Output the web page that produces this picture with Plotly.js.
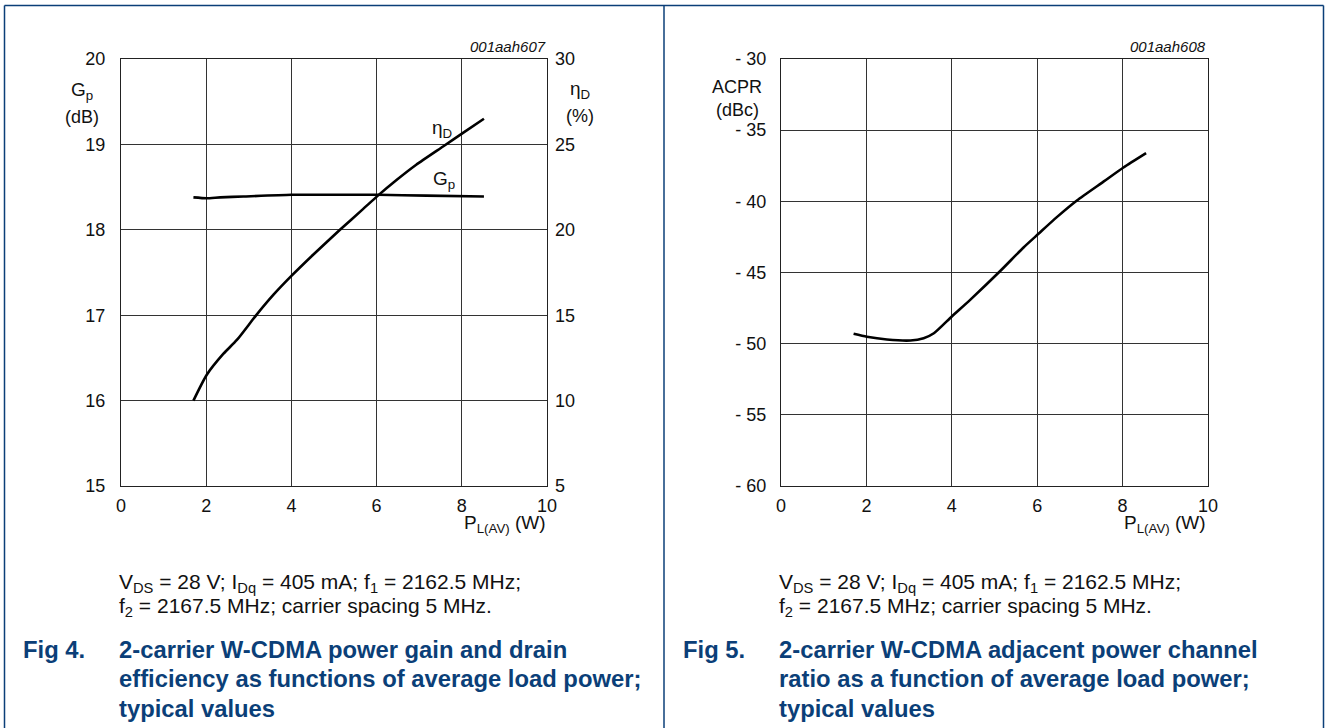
<!DOCTYPE html>
<html>
<head>
<meta charset="utf-8">
<script src="https://cdn.plot.ly/plotly-3.0.1.min.js"></script>
<style>html,body{margin:0;padding:0;background:#fff;}#chart{width:1326px;height:728px;}</style>
</head>
<body>
<div id="chart"></div>
<script>
// Fig 4 data
const loadPowerGp = [1.70, 2.01, 2.33, 2.87, 4.00, 5.21, 6.03, 7.17, 8.52];
const gainGp = [18.38, 18.37, 18.38, 18.39, 18.41, 18.41, 18.41, 18.40, 18.39];
const loadPowerEta = [1.70, 2.01, 2.40, 2.72, 3.18, 3.58, 4.00, 4.51, 5.14, 5.68, 6.03, 6.46, 6.93, 7.56, 8.02, 8.52];
const drainEff = [10.0, 11.5, 12.73, 13.55, 15.02, 16.2, 17.3, 18.54, 20.0, 21.21, 22.0, 22.9, 23.81, 24.88, 25.66, 26.5];
// Fig 5 data
const loadPowerAcpr = [1.70, 2.01, 2.48, 3.03, 3.34, 3.58, 4.00, 4.43, 5.14, 5.68, 6.03, 6.46, 6.93, 7.56, 8.02, 8.55];
const acpr = [-49.31, -49.52, -49.71, -49.78, -49.62, -49.27, -48.09, -46.92, -44.88, -43.24, -42.28, -41.11, -39.94, -38.6, -37.62, -36.61];
// ticks
const xTicks = [0, 2, 4, 6, 8, 10];
const gpTicks = [15, 16, 17, 18, 19, 20];
const etaTicks = [5, 10, 15, 20, 25, 30];
const acprTicks = [-60, -55, -50, -45, -40, -35, -30];
const acprTickText = ['- 60', '- 55', '- 50', '- 45', '- 40', '- 35', '- 30'];

const FONT = 'Liberation Sans, Arial, sans-serif';
const BLUE = '#0b3f78';
const TXT = '#111';
const lineStyle = {color: '#000', width: 2.6, shape: 'spline', smoothing: 0.6};

const traces = [
  {x: loadPowerGp, y: gainGp, xaxis: 'x', yaxis: 'y', mode: 'lines', line: lineStyle, name: 'Gp'},
  {x: loadPowerEta, y: drainEff, xaxis: 'x', yaxis: 'y2', mode: 'lines', line: lineStyle, name: 'ηD'},
  {x: loadPowerAcpr, y: acpr, xaxis: 'x2', yaxis: 'y3', mode: 'lines', line: lineStyle, name: 'ACPR'}
];

const yTop = 1 - 59 / 728, yBot = 1 - 486 / 728;
const axBase = {
  showline: true, linecolor: '#222', linewidth: 1, mirror: true,
  showgrid: true, gridcolor: '#333', gridwidth: 1, zeroline: false,
  ticks: '', tickfont: {family: FONT, size: 18, color: TXT}, fixedrange: true
};

function ann(x, y, text, opts) {
  return Object.assign({xref: 'paper', yref: 'paper', x: x / 1326, y: 1 - y / 728, text: text,
    showarrow: false, xanchor: 'center', yanchor: 'middle',
    font: {family: FONT, size: 18, color: TXT}}, opts || {});
}
const capFont = {family: FONT, size: 21, color: TXT};
const titleFont = {family: FONT, size: 23.8, color: BLUE};
const idFont = {family: FONT, size: 15, color: TXT};
const axFont = {family: FONT, size: 19, color: TXT};

const annotations = [
  // Fig 4 labels
  ann(82, 91, 'G<sub>p</sub>', {font: axFont}),
  ann(82, 117, '(dB)'),
  ann(580, 90, 'η<sub>D</sub>', {font: axFont}),
  ann(580, 116, '(%)'),
  ann(548, 524, 'P<sub>L(AV)</sub> (W)', {xanchor: 'right', font: axFont}),
  ann(548, 47, '<i>001aah607</i>', {xanchor: 'right', font: idFont}),
  ann(442, 129, 'η<sub>D</sub>', {font: axFont}),
  ann(444, 180, 'G<sub>p</sub>', {font: axFont}),
  // Fig 5 labels
  ann(737, 87, 'ACPR'),
  ann(737, 110, '(dBc)'),
  ann(1208, 524, 'P<sub>L(AV)</sub> (W)', {xanchor: 'right', font: axFont}),
  ann(1208, 47, '<i>001aah608</i>', {xanchor: 'right', font: idFont}),
  // Captions
  ann(117, 583, 'V<sub>DS</sub> = 28 V; I<sub>Dq</sub> = 405 mA; f<sub>1</sub> = 2162.5 MHz;', {xanchor: 'left', font: capFont}),
  ann(117, 607, 'f<sub>2</sub> = 2167.5 MHz; carrier spacing 5 MHz.', {xanchor: 'left', font: capFont}),
  ann(777, 583, 'V<sub>DS</sub> = 28 V; I<sub>Dq</sub> = 405 mA; f<sub>1</sub> = 2162.5 MHz;', {xanchor: 'left', font: capFont}),
  ann(777, 607, 'f<sub>2</sub> = 2167.5 MHz; carrier spacing 5 MHz.', {xanchor: 'left', font: capFont}),
  ann(21, 649, '<b>Fig 4.</b>', {xanchor: 'left', font: titleFont}),
  ann(117, 649, '<b>2-carrier W-CDMA power gain and drain</b>', {xanchor: 'left', font: titleFont}),
  ann(117, 678, '<b>efficiency as functions of average load power;</b>', {xanchor: 'left', font: titleFont}),
  ann(117, 708, '<b>typical values</b>', {xanchor: 'left', font: titleFont}),
  ann(681, 649, '<b>Fig 5.</b>', {xanchor: 'left', font: titleFont}),
  ann(777, 649, '<b>2-carrier W-CDMA adjacent power channel</b>', {xanchor: 'left', font: titleFont}),
  ann(777, 678, '<b>ratio as a function of average load power;</b>', {xanchor: 'left', font: titleFont}),
  ann(777, 708, '<b>typical values</b>', {xanchor: 'left', font: titleFont})
];

const shapes = [
  {type: 'line', xref: 'paper', yref: 'paper', x0: 4.5/1326, x1: 1323.5/1326, y0: 1 - 5.5/728, y1: 1 - 5.5/728, line: {color: BLUE, width: 1.5}},
  {type: 'line', xref: 'paper', yref: 'paper', x0: 4.5/1326, x1: 4.5/1326, y0: 0, y1: 1 - 5.5/728, line: {color: BLUE, width: 1.5}},
  {type: 'line', xref: 'paper', yref: 'paper', x0: 664/1326, x1: 664/1326, y0: 0, y1: 1 - 5.5/728, line: {color: BLUE, width: 1.5}},
  {type: 'line', xref: 'paper', yref: 'paper', x0: 1323.5/1326, x1: 1323.5/1326, y0: 0, y1: 1 - 5.5/728, line: {color: BLUE, width: 1.5}}
];

const layout = {
  width: 1326, height: 728,
  margin: {l: 0, r: 0, t: 0, b: 0},
  paper_bgcolor: '#fff', plot_bgcolor: '#fff',
  showlegend: false,
  xaxis: Object.assign({}, axBase, {domain: [121/1326, 547/1326], range: [0, 10], tickvals: xTicks, anchor: 'y', ticklabelstandoff: 3}),
  yaxis: Object.assign({}, axBase, {domain: [yBot, yTop], range: [15, 20], tickvals: gpTicks, anchor: 'x', ticklabelstandoff: 11}),
  yaxis2: Object.assign({}, axBase, {domain: [yBot, yTop], range: [5, 30], tickvals: etaTicks, overlaying: 'y', side: 'right', anchor: 'x', showgrid: false, showline: false, ticklabelstandoff: 7}),
  xaxis2: Object.assign({}, axBase, {domain: [781/1326, 1208/1326], range: [0, 10], tickvals: xTicks, anchor: 'y3', ticklabelstandoff: 3}),
  yaxis3: Object.assign({}, axBase, {domain: [yBot, yTop], range: [-60, -30], tickvals: acprTicks, ticktext: acprTickText, anchor: 'x2', ticklabelstandoff: 10}),
  annotations: annotations,
  shapes: shapes
};

Plotly.newPlot('chart', traces, layout, {staticPlot: true, displayModeBar: false});
</script>
</body>
</html>
